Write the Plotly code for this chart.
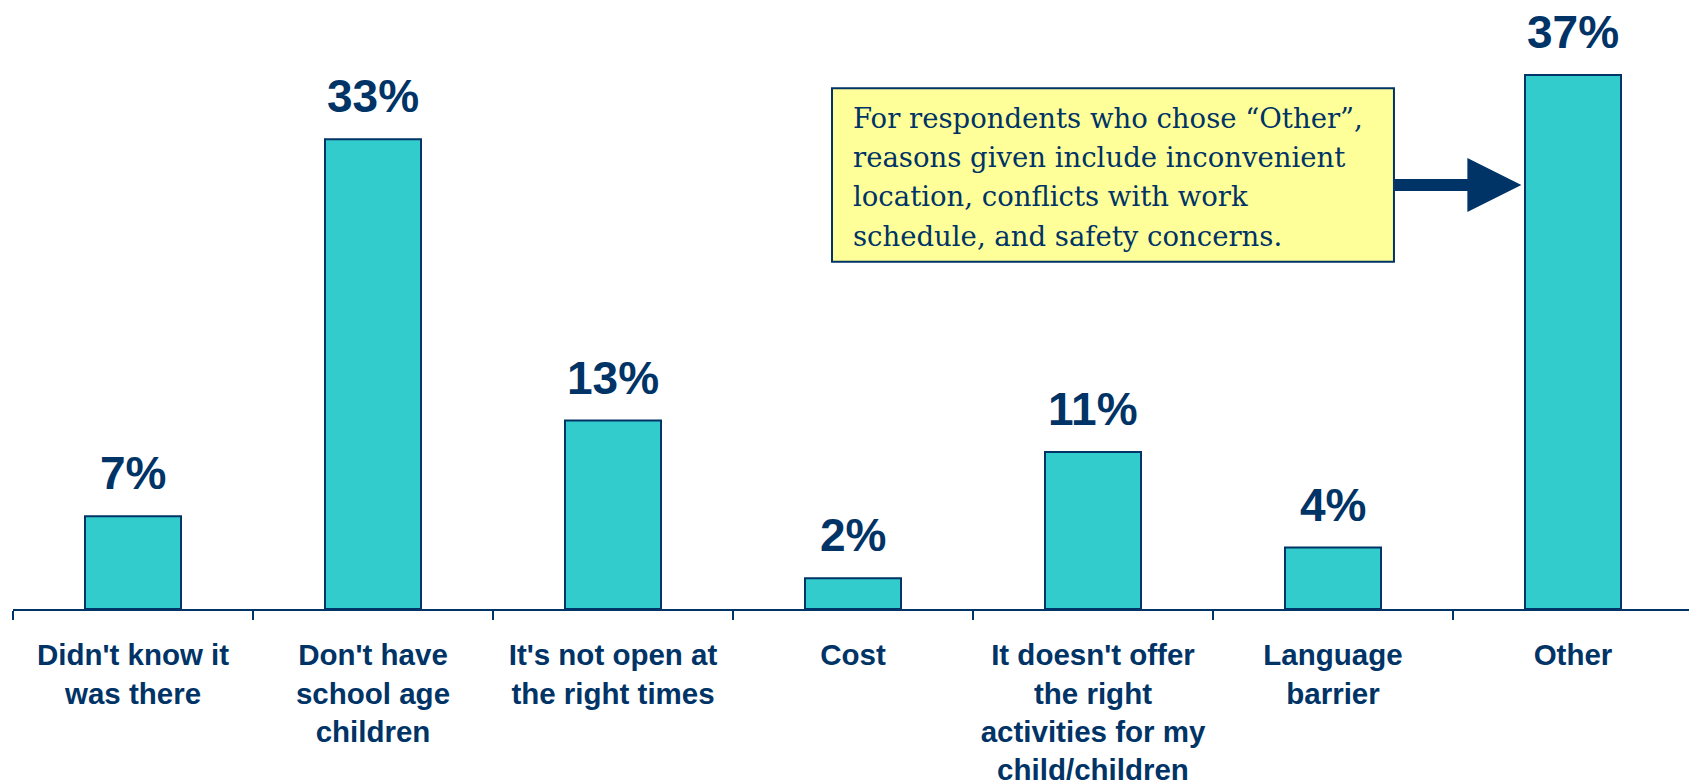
import plotly.graph_objects as go

categories = [
    "Didn't know it<br>was there",
    "Don't have<br>school age<br>children",
    "It's not open at<br>the right times",
    "Cost",
    "It doesn't offer<br>the right<br>activities for my<br>child/children",
    "Language<br>barrier",
    "Other",
]
values = [6.5, 32.9, 13.2, 2.15, 11.0, 4.3, 37.4]
value_labels = ["7%", "33%", "13%", "2%", "11%", "4%", "37%"]

note_lines = [
    "For respondents who chose \u201cOther\u201d,",
    "reasons given include inconvenient",
    "location, conflicts with work",
    "schedule, and safety concerns.",
]

NAVY = '#003366'
TEAL = '#33CCCC'

fig = go.Figure()

fig.add_trace(go.Bar(
    x=categories,
    y=values,
    marker=dict(color=TEAL, line=dict(color=NAVY, width=2)),
    hoverinfo='skip',
))

# value labels above each bar
for cat, v, lab in zip(categories, values, value_labels):
    fig.add_annotation(
        x=cat, y=v, text=lab, showarrow=False,
        yanchor='middle', yshift=43,
        font=dict(family='Liberation Sans, Arial', size=46, color=NAVY, weight='bold'),
    )

# yellow note box
fig.add_shape(
    type='rect', xref='paper', yref='paper',
    x0=0.4875, x1=0.8220, y0=0.608, y1=0.912,
    fillcolor='#FFFF99', line=dict(color=NAVY, width=2), layer='above',
)
# note text, one annotation per line to get the wider line spacing
line_y = [0.8603, 0.7920, 0.7238, 0.6536]
for txt, yy in zip(note_lines, line_y):
    fig.add_annotation(
        xref='paper', yref='paper', x=0.4987, y=yy,
        xanchor='left', yanchor='middle', align='left',
        text=txt, showarrow=False,
        font=dict(family='DejaVu Serif', size=27.5, color=NAVY),
    )

# arrow pointing at "Other"
fig.add_annotation(
    x=5.785, y=29.7, text='', showarrow=True,
    ax=-128, ay=0,
    arrowhead=2, arrowsize=0.9, arrowwidth=12, arrowcolor=NAVY,
)

# page body has an 8px margin, so the figure is sized/offset to compensate
fig.update_layout(
    width=1689, height=773,
    margin=dict(l=5, r=4, t=30, b=172),
    paper_bgcolor='white',
    plot_bgcolor='white',
    showlegend=False,
    bargap=0.6,
    xaxis=dict(
        type='category',
        automargin=False,
        range=[-0.5, len(categories) - 0.5],
        showline=True, linecolor=NAVY, linewidth=2,
        ticks='outside', tickson='boundaries', ticklen=9, tickwidth=2, tickcolor=NAVY,
        ticklabelstandoff=19,
        tickfont=dict(family='Liberation Sans, Arial', size=29.5, color=NAVY, weight='bold'),
        showgrid=False, zeroline=False,
    ),
    yaxis=dict(
        range=[0, 40],
        visible=False,
        automargin=False,
        showgrid=False, zeroline=False,
    ),
)

fig.write_html("out.html")
